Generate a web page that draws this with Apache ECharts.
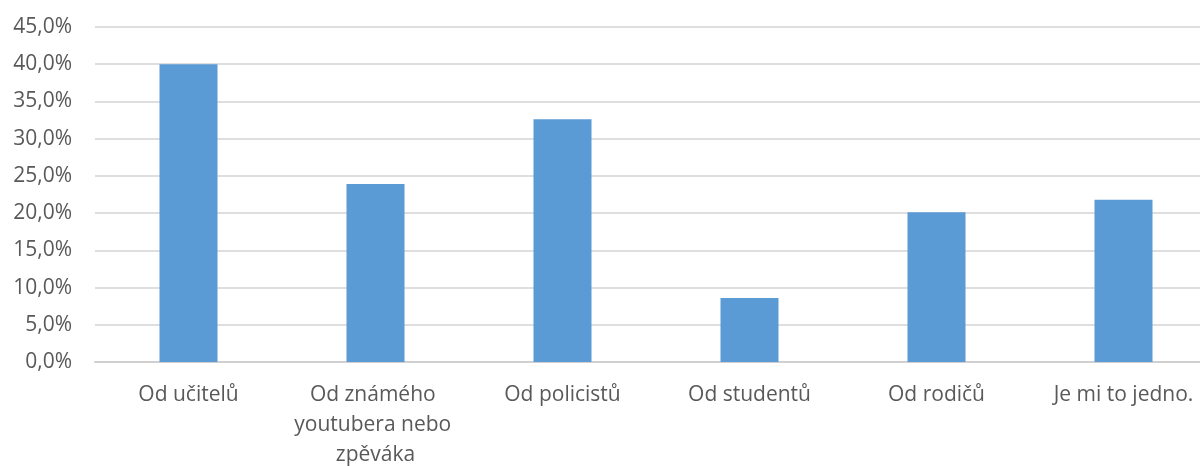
<!DOCTYPE html>
<html>
<head>
<meta charset="utf-8">
<script src="https://cdn.jsdelivr.net/npm/echarts@6/dist/echarts.min.js"></script>
<style>
  html, body { margin: 0; padding: 0; background: #ffffff; overflow: hidden; }
  #chart { width: 1200px; height: 466px; }
</style>
</head>
<body>
<div id="chart"></div>
<script>
// Odpovědi: od koho by respondenti nejraději slyšeli informace (podíl v %)
const categories = [
  'Od učitelů',
  'Od známého youtubera nebo zpěváka',
  'Od policistů',
  'Od studentů',
  'Od rodičů',
  'Je mi to jedno.'
];
const shares = [40.0, 23.9, 32.6, 8.6, 20.1, 21.8];
const yMin = 0;
const yMax = 45;
const yStep = 5;

const textColor = '#595959';
const fontFamily = '"Open Sans", "DejaVu Sans", sans-serif';

const chart = echarts.init(document.getElementById('chart'), null, { renderer: 'canvas' });

chart.setOption({
  animation: false,
  backgroundColor: '#ffffff',
  grid: {
    left: 95, top: 27, width: 1122, height: 335,
    containLabel: false,
    outerBoundsMode: 'none'
  },
  xAxis: {
    type: 'category',
    data: categories,
    axisLine: { show: true, lineStyle: { color: '#d0d0d0', width: 2 } },
    axisTick: { show: false },
    axisLabel: {
      color: textColor,
      fontFamily: fontFamily,
      fontSize: 21,
      lineHeight: 30,
      margin: 18,
      interval: 0,
      width: 180,
      overflow: 'break'
    }
  },
  yAxis: {
    type: 'value',
    min: yMin,
    max: yMax,
    interval: yStep,
    axisLine: { show: false },
    axisTick: { show: false },
    splitLine: { show: true, lineStyle: { color: '#dedede', width: 2 } },
    axisLabel: {
      color: textColor,
      fontFamily: fontFamily,
      fontSize: 21,
      margin: 23,
      formatter: v => v.toFixed(1).replace('.', ',') + '%'
    }
  },
  series: [{
    type: 'bar',
    data: shares,
    barWidth: 58,
    itemStyle: { color: '#5b9bd5' }
  }]
});
</script>
</body>
</html>
